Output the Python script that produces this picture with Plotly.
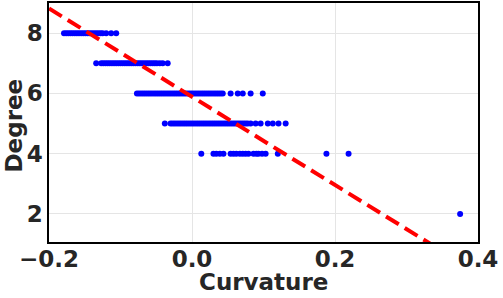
import plotly.graph_objects as go

# Curvature values per degree
deg8_x = [-0.179, -0.176, -0.173, -0.170, -0.167, -0.164, -0.161, -0.158, -0.155,
          -0.152, -0.149, -0.146, -0.143, -0.140, -0.137, -0.134, -0.131, -0.128,
          -0.125, -0.120, -0.113, -0.106]
deg7_x = [-0.134, -0.127, -0.124, -0.121, -0.118, -0.115, -0.112, -0.109, -0.106,
          -0.103, -0.100, -0.097, -0.094, -0.091, -0.088, -0.085, -0.082, -0.079,
          -0.076, -0.073, -0.070, -0.067, -0.064, -0.061, -0.058, -0.055, -0.052,
          -0.049, -0.045, -0.041, -0.034]
deg6_x = [-0.077, -0.074, -0.071, -0.068, -0.065, -0.062, -0.059, -0.056, -0.053,
          -0.050, -0.047, -0.044, -0.041, -0.038, -0.035, -0.032, -0.029, -0.026,
          -0.023, -0.020, -0.017, -0.014, -0.011, -0.008, -0.005, -0.002, 0.001,
          0.004, 0.007, 0.010, 0.013, 0.016, 0.019, 0.022, 0.025, 0.028, 0.031,
          0.034, 0.037, 0.040, 0.043, 0.054, 0.064, 0.071, 0.082, 0.099]
deg5_x = [-0.038, -0.030, -0.027, -0.024, -0.021, -0.018, -0.015, -0.012, -0.009,
          -0.006, -0.003, 0.000, 0.003, 0.006, 0.009, 0.012, 0.015, 0.018, 0.021,
          0.024, 0.027, 0.030, 0.033, 0.036, 0.039, 0.042, 0.045, 0.048, 0.051,
          0.054, 0.057, 0.060, 0.063, 0.066, 0.069, 0.072, 0.075, 0.078, 0.082,
          0.089, 0.096, 0.106, 0.113, 0.121, 0.131]
deg4_x = [0.013, 0.030, 0.034, 0.039, 0.044, 0.054, 0.058, 0.062, 0.067, 0.071,
          0.075, 0.079, 0.086, 0.090, 0.093, 0.098, 0.103, 0.120, 0.188, 0.219]
deg2_x = [0.375]

degrees = [8, 7, 6, 5, 4, 2]
groups = [deg8_x, deg7_x, deg6_x, deg5_x, deg4_x, deg2_x]

x_title = "Curvature"
y_title = "Degree"

# Fitted line parameters
fit_slope = -14.64
fit_intercept = 5.89

x_range = [-0.2, 0.4]
y_range = [1.07, 9.0]

xs, ys = [], []
for d, g in zip(degrees, groups):
    xs.extend(g)
    ys.extend([d] * len(g))

fig = go.Figure()
fig.add_trace(go.Scatter(x=xs, y=ys, mode="markers",
                         marker=dict(color="#0000ff", size=6, line=dict(width=0)),
                         showlegend=False, cliponaxis=True))
line_x = x_range
line_y = [fit_intercept + fit_slope * v for v in line_x]
fig.add_trace(go.Scatter(x=line_x, y=line_y, mode="lines",
                         line=dict(color="#ff0000", width=4, dash="15px,7px"),
                         showlegend=False))

font = dict(family="DejaVu Sans", size=22, color="#262626")
axis_common = dict(showgrid=True, gridcolor="#e5e5e5", gridwidth=1, automargin=False,
                   showline=True, linecolor="black", linewidth=1.5, mirror=True,
                   zeroline=False, ticks="",
                   tickfont=dict(family="DejaVu Sans", size=23, color="#262626", weight="bold"))
title_font = dict(family="DejaVu Sans", size=23, color="#262626", weight="bold")
fig.update_layout(
    width=503, height=298,
    margin=dict(l=49, r=25, t=3, b=56),
    plot_bgcolor="white", paper_bgcolor="white",
    font=font,
    xaxis=dict(range=x_range, tickvals=[-0.2, 0.0, 0.2, 0.4],
               ticktext=["\u22120.2", "0.0", "0.2", "0.4"], ticklabelstandoff=-4,
               **axis_common),
    yaxis=dict(range=y_range, tickvals=[2, 4, 6, 8], **axis_common),
    annotations=[
        dict(text=x_title, xref="paper", yref="paper", x=0.5, y=0,
             xanchor="center", yanchor="middle", yshift=-40, showarrow=False,
             font=title_font),
        dict(text=y_title, xref="paper", yref="paper", x=0, y=0.5,
             xanchor="center", yanchor="middle", xshift=-36, yshift=-3,
             textangle=-90, showarrow=False, font=title_font),
    ],
)
fig.write_html("out.html", config={"displayModeBar": False},
               post_script="document.body.style.margin='0';document.body.style.overflow='hidden';")
